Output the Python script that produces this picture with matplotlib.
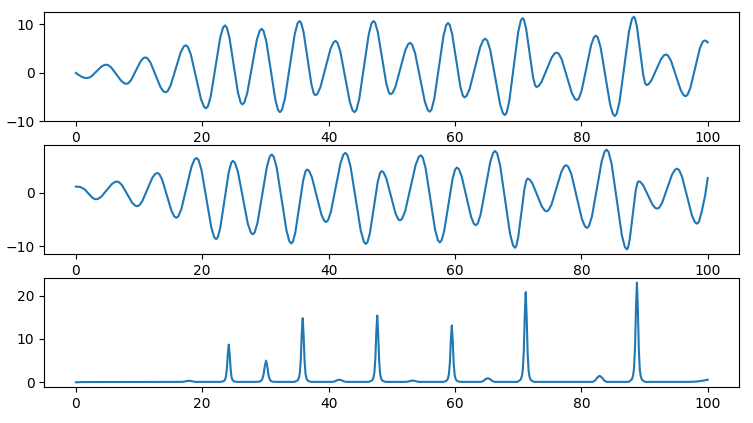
import matplotlib
matplotlib.use("Agg")
import matplotlib.pyplot as plt

# values, one extremum-to-extremum stretch per line
t_x = [0,
       0.45, 0.9, 1.3, 1.58, 1.75,
       2.06, 2.51, 3.28, 4.04, 4.5, 4.8,
       5.12, 5.6, 6.4, 7.2, 7.68, 8.0,
       8.3, 8.75, 9.5, 10.25, 10.7, 11.0,
       11.32, 11.8, 12.6, 13.4, 13.88, 14.2,
       14.52, 15.0, 15.8, 16.6, 17.08, 17.4,
       17.72, 18.2, 19.0, 19.8, 20.28, 20.6,
       20.9, 21.35, 22.1, 22.85, 23.3, 23.6,
       23.88, 24.29, 24.98, 25.66, 26.08, 26.35,
       26.66, 27.11, 27.88, 28.64, 29.1, 29.4,
       29.69, 30.13, 30.85, 31.58, 32.01, 32.3,
       32.61, 33.08, 33.85, 34.63, 35.09, 35.4,
       35.65, 36.03, 36.65, 37.28, 37.65, 37.9,
       38.22, 38.7, 39.5, 40.3, 40.78, 41.1,
       41.4, 41.85, 42.6, 43.35, 43.8, 44.1,
       44.4, 44.85, 45.6, 46.35, 46.8, 47.1,
       47.37, 47.78, 48.45, 49.13, 49.53, 49.8,
       50.11, 50.58, 51.35, 52.13, 52.59, 52.9,
       53.21, 53.68, 54.45, 55.23, 55.69, 56.0,
       56.29, 56.73, 57.45, 58.18, 58.61, 58.9,
       59.16, 59.55, 60.2, 60.85, 61.24, 61.5,
       61.83, 62.33, 63.15, 63.98, 64.47, 64.8,
       65.11, 65.58, 66.35, 67.13, 67.59, 67.9,
       68.18, 68.6, 69.3, 70.0, 70.42, 70.7,
       70.92, 71.25, 71.8, 72.35, 72.68, 72.9,
       73.22, 73.7, 74.5, 75.3, 75.78, 76.1,
       76.42, 76.9, 77.7, 78.5, 78.98, 79.3,
       79.6, 80.05, 80.8, 81.55, 82.0, 82.3,
       82.6, 83.05, 83.8, 84.55, 85.0, 85.3,
       85.6, 86.05, 86.8, 87.55, 88.0, 88.3,
       88.5, 88.8, 89.3, 89.8, 90.1, 90.3,
       90.61, 91.08, 91.85, 92.63, 93.09, 93.4,
       93.71, 94.18, 94.95, 95.73, 96.19, 96.5,
       96.8, 97.25, 98.0, 98.75, 99.2, 99.5,
       99.75, 100]
x_vals = [0.0,
          -0.42, -0.78, -0.97, -1.04, -1.05,
          -0.98, -0.65, 0.33, 1.30, 1.63, 1.7,
          1.60, 1.12, -0.28, -1.67, -2.15, -2.25,
          -2.12, -1.45, 0.48, 2.40, 3.07, 3.2,
          3.02, 2.15, -0.4, -2.95, -3.82, -4.0,
          -3.76, -2.58, 0.85, 4.28, 5.46, 5.7,
          5.38, 3.8, -0.8, -5.4, -6.98, -7.3,
          -6.88, -4.8, 1.25, 7.3, 9.38, 9.8,
          9.4, 7.41, 1.65, -4.11, -6.1, -6.5,
          -6.12, -4.22, 1.3, 6.82, 8.72, 9.1,
          8.68, 6.58, 0.5, -5.58, -7.68, -8.1,
          -7.64, -5.35, 1.3, 7.95, 10.24, 10.7,
          10.33, 8.46, 3.05, -2.36, -4.23, -4.6,
          -4.33, -2.96, 1.0, 4.96, 6.33, 6.6,
          6.24, 4.45, -0.75, -5.95, -7.74, -8.1,
          -7.64, -5.35, 1.3, 7.95, 10.24, 10.7,
          10.33, 8.49, 3.15, -2.19, -4.03, -4.4,
          -4.14, -2.85, 0.9, 4.65, 5.94, 6.2,
          5.85, 4.12, -0.9, -5.92, -7.65, -8.0,
          -7.55, -5.32, 1.15, 7.62, 9.85, 10.3,
          9.92, 8.05, 2.62, -2.8, -4.67, -5.05,
          -4.75, -3.28, 1.0, 5.28, 6.75, 7.05,
          6.66, 4.74, -0.83, -6.39, -8.31, -8.7,
          -8.21, -5.77, 1.3, 8.37, 10.81, 11.3,
          10.95, 9.22, 4.2, -0.82, -2.55, -2.9,
          -2.73, -1.86, 0.65, 3.16, 4.03, 4.2,
          3.96, 2.77, -0.7, -4.17, -5.36, -5.6,
          -5.27, -3.65, 1.05, 5.75, 7.37, 7.7,
          7.29, 5.27, -0.6, -6.47, -8.49, -8.9,
          -8.4, -5.9, 1.35, 8.6, 11.1, 11.6,
          11.25, 9.54, 4.55, -0.44, -2.15, -2.5,
          -2.35, -1.58, 0.65, 2.88, 3.65, 3.8,
          3.59, 2.54, -0.5, -3.54, -4.59, -4.8,
          -4.52, -3.12, 0.95, 5.02, 6.42, 6.7,
          6.6, 6.3]

t_y = [0, 0.7, 1.4, 2.0, 2.6, 2.95, 3.2,
       3.53, 4.03, 4.85, 5.68, 6.17, 6.5,
       6.82, 7.3, 8.1, 8.9, 9.38, 9.7,
       10.02, 10.5, 11.3, 12.1, 12.58, 12.9,
       13.2, 13.65, 14.4, 15.15, 15.6, 15.9,
       16.22, 16.7, 17.5, 18.3, 18.78, 19.1,
       19.41, 19.88, 20.65, 21.43, 21.89, 22.2,
       22.47, 22.86, 23.53, 24.19, 24.59, 24.85,
       25.17, 25.64, 26.43, 27.21, 27.69, 28.0,
       28.3, 28.75, 29.5, 30.25, 30.7, 31.0,
       31.31, 31.78, 32.55, 33.33, 33.79, 34.1,
       34.35, 34.73, 35.35, 35.98, 36.35, 36.6,
       36.9, 37.35, 38.1, 38.85, 39.3, 39.6,
       39.91, 40.36, 41.13, 41.89, 42.35, 42.65,
       42.98, 43.46, 44.28, 45.09, 45.58, 45.9,
       46.15, 46.53, 47.15, 47.78, 48.15, 48.4,
       48.69, 49.13, 49.85, 50.58, 51.01, 51.3,
       51.63, 52.13, 52.95, 53.78, 54.27, 54.6,
       54.9, 55.35, 56.1, 56.85, 57.3, 57.6,
       57.87, 58.28, 58.95, 59.63, 60.03, 60.3,
       60.6, 61.05, 61.8, 62.55, 63.0, 63.3,
       63.61, 64.06, 64.83, 65.59, 66.05, 66.35,
       66.67, 67.14, 67.93, 68.71, 69.19, 69.5,
       69.7, 70.0, 70.5, 71.0, 71.3, 71.5,
       71.8, 72.25, 73.0, 73.75, 74.2, 74.5,
       74.81, 75.28, 76.05, 76.83, 77.29, 77.6,
       77.93, 78.43, 79.25, 80.08, 80.57, 80.9,
       81.21, 81.68, 82.45, 83.23, 83.69, 84.0,
       84.32, 84.8, 85.6, 86.4, 86.88, 87.2,
       87.39, 87.66, 88.13, 88.59, 88.87, 89.05,
       89.35, 89.79, 90.53, 91.26, 91.71, 92.0,
       92.32, 92.79, 93.58, 94.36, 94.84, 95.15,
       95.47, 95.94, 96.73, 97.51, 97.99, 98.3,
       98.6, 99.05, 99.6, 100]
y_vals = [1.1, 1.05, 0.6, -0.2, -0.95, -1.2, -1.25,
          -1.17, -0.77, 0.4, 1.57, 1.97, 2.05,
          1.94, 1.38, -0.25, -1.88, -2.44, -2.55,
          -2.4, -1.64, 0.55, 2.74, 3.5, 3.65,
          3.45, 2.43, -0.53, -3.48, -4.5, -4.7,
          -4.43, -3.07, 0.88, 4.82, 6.18, 6.45,
          6.08, 4.23, -1.13, -6.48, -8.33, -8.7,
          -8.34, -6.56, -1.4, 3.76, 5.54, 5.9,
          5.56, 3.9, -0.95, -5.79, -7.46, -7.8,
          -7.44, -5.62, -0.35, 4.92, 6.74, 7.1,
          6.69, 4.67, -1.2, -7.07, -9.09, -9.5,
          -9.16, -7.48, -2.6, 2.28, 3.96, 4.3,
          4.06, 2.87, -0.6, -4.07, -5.26, -5.5,
          -5.18, -3.61, 0.95, 5.51, 7.08, 7.4,
          6.98, 4.91, -1.1, -7.11, -9.18, -9.6,
          -9.27, -7.61, -2.8, 2.01, 3.67, 4.0,
          3.78, 2.65, -0.6, -3.85, -4.98, -5.2,
          -4.9, -3.42, 0.88, 5.17, 6.65, 6.95,
          6.55, 4.57, -1.18, -6.92, -8.9, -9.3,
          -8.96, -7.26, -2.32, 2.61, 4.31, 4.65,
          4.39, 3.08, -0.73, -4.53, -5.84, -6.1,
          -5.76, -4.07, 0.83, 5.72, 7.41, 7.75,
          7.31, 5.11, -1.28, -7.66, -9.86, -10.3,
          -9.98, -8.41, -3.85, 0.71, 2.28, 2.6,
          2.45, 1.71, -0.45, -2.61, -3.35, -3.5,
          -3.29, -2.24, 0.8, 3.84, 4.89, 5.1,
          4.81, 3.39, -0.75, -4.89, -6.31, -6.6,
          -6.24, -4.46, 0.7, 5.86, 7.64, 8.0,
          7.54, 5.28, -1.3, -7.88, -10.14, -10.6,
          -10.29, -8.74, -4.25, 0.24, 1.79, 2.1,
          1.98, 1.35, -0.45, -2.25, -2.88, -3.0,
          -2.82, -1.91, 0.73, 3.36, 4.27, 4.45,
          4.2, 2.95, -0.68, -4.3, -5.55, -5.8,
          -5.49, -3.6, -0.5, 2.7]

t_z = [0, 1.0, 8.0,
       16.8, 17.2, 17.5, 17.9, 18.3, 18.6, 19.0,
       22.9, 23.4, 23.6, 23.75, 23.9, 24.05, 24.2, 24.35, 24.5, 24.65, 24.8, 25.0, 25.5,
       28.4, 29.06, 29.32, 29.51, 29.71, 29.9, 30.1, 30.3, 30.49, 30.69, 30.88, 31.14, 31.8,
       34.6, 35.1, 35.3, 35.45, 35.6, 35.75, 35.9, 36.05, 36.2, 36.35, 36.5, 36.7, 37.2,
       40.6, 41.0, 41.3, 41.7, 42.1, 42.4, 42.8,
       46.4, 46.9, 47.1, 47.25, 47.4, 47.55, 47.7, 47.85, 48.0, 48.15, 48.3, 48.5, 49.0,
       52.2, 52.6, 52.9, 53.3, 53.7, 54.0, 54.4,
       58.2, 58.7, 58.9, 59.05, 59.2, 59.35, 59.5, 59.65, 59.8, 59.95, 60.1, 60.3, 60.8,
       64.1, 64.5, 64.8, 65.2, 65.6, 65.9, 66.3,
       69.9, 70.4, 70.6, 70.75, 70.9, 71.05, 71.2, 71.35, 71.5, 71.65, 71.8, 72.0, 72.5,
       81.8, 82.2, 82.5, 82.9, 83.3, 83.6, 84.0,
       87.5, 88.0, 88.2, 88.35, 88.5, 88.65, 88.8, 88.95, 89.1, 89.25, 89.4, 89.6, 90.1,
       97.0, 98.0, 98.8, 99.5, 100]
z_vals = [0.0, 0.06, 0.08,
          0.1, 0.17, 0.28, 0.35, 0.28, 0.17, 0.1,
          0.1, 0.26, 0.6, 1.3, 3.1, 6.5, 8.7, 6.3, 2.9, 1.1, 0.52, 0.22, 0.1,
          0.1, 0.15, 0.35, 0.75, 1.8, 3.75, 5.0, 3.6, 1.65, 0.65, 0.3, 0.13, 0.1,
          0.1, 0.44, 1.04, 2.2, 5.3, 11.1, 14.8, 10.7, 4.9, 1.9, 0.89, 0.37, 0.1,
          0.1, 0.22, 0.45, 0.6, 0.45, 0.22, 0.1,
          0.1, 0.46, 1.08, 2.3, 5.5, 11.55, 15.4, 11.1, 5.1, 2.0, 0.92, 0.38, 0.1,
          0.1, 0.17, 0.31, 0.4, 0.31, 0.17, 0.1,
          0.1, 0.39, 0.92, 1.97, 4.7, 9.8, 13.1, 9.4, 4.3, 1.7, 0.79, 0.33, 0.1,
          0.1, 0.3, 0.7, 0.95, 0.7, 0.3, 0.1,
          0.1, 0.62, 1.46, 3.1, 7.5, 15.6, 20.8, 15.0, 6.9, 2.7, 1.25, 0.52, 0.1,
          0.1, 0.45, 1.05, 1.5, 1.05, 0.45, 0.1,
          0.1, 0.69, 1.61, 3.45, 8.3, 17.25, 23.0, 16.6, 7.6, 3.0, 1.38, 0.58, 0.1,
          0.1, 0.15, 0.28, 0.45, 0.6]

fig, axes = plt.subplots(3, 1, figsize=(7.53, 4.23), dpi=100)
fig.subplots_adjust(left=0.0588, right=0.9818, top=0.9723, bottom=0.0844, hspace=0.212)

axes[0].plot(t_x, x_vals)
axes[0].set_yticks([-10, 0, 10])
axes[1].plot(t_y, y_vals)
axes[1].set_yticks([-10, 0])
axes[2].plot(t_z, z_vals)
axes[2].set_yticks([0, 10, 20])

for ax in axes:
    ax.set_xticks([0, 20, 40, 60, 80, 100])

fig.savefig("out.png")
